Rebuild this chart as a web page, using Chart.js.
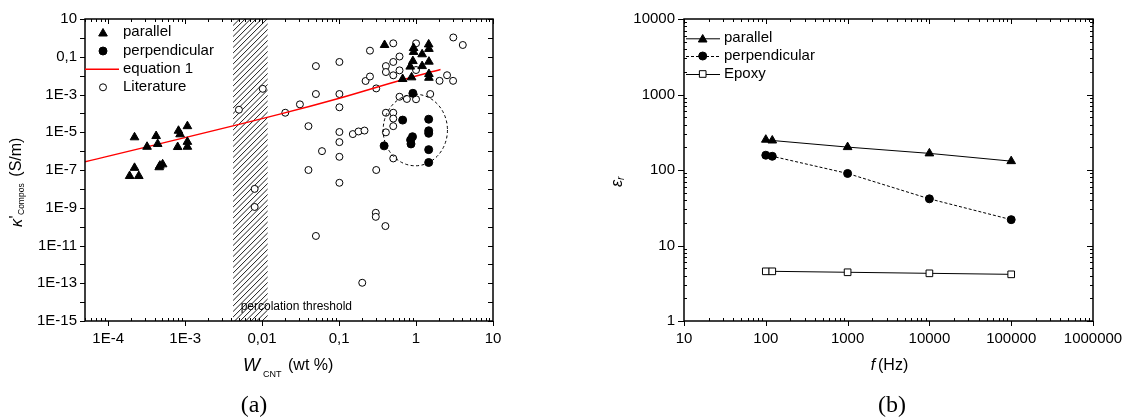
<!DOCTYPE html>
<html><head><meta charset="utf-8">
<script src="https://cdn.jsdelivr.net/npm/chart.js@4.4.1/dist/chart.umd.min.js"></script>
<style>
html,body{margin:0;padding:0;background:#fff;}
#wrap{position:relative;width:1124px;height:418px;overflow:hidden;background:#fff;}
canvas{position:absolute;top:0;}
#ca{left:0;} #cb{left:562px;}
</style></head><body>
<div id="wrap"><canvas id="ca" width="562" height="418"></canvas><canvas id="cb" width="562" height="418"></canvas></div>
<script>
// ---------------- Panel (a) data ----------------
const parallelW = [2.2e-4, 2.2e-4, 1.9e-4, 2.5e-4, 3.2e-4, 4.2e-4, 4.4e-4, 4.7e-4, 5.1e-4, 4.6e-4, 8.2e-4, 8.6e-4, 8.0e-4, 1.07e-3, 1.07e-3, 1.07e-3,
                   0.39, 0.93, 0.93, 1.46, 1.47, 1.2, 0.91, 0.84, 1.2, 1.47, 0.67, 0.875, 1.47, 1.47];
const parallelK = [5.4e-6, 1.3e-7, 4.8e-8, 4.8e-8, 1.7e-6, 6.3e-6, 2.4e-6, 1.7e-7, 2.0e-7, 1.4e-7, 1.2e-5, 7.8e-6, 1.65e-6, 2.1e-5, 3.1e-6, 1.7e-6,
                   0.42, 0.29, 0.18, 0.45, 0.26, 0.135, 0.059, 0.030, 0.032, 0.055, 6.6e-3, 8.1e-3, 0.0122, 7.7e-3];
const perpW = [0.91, 0.67, 1.46, 1.46, 1.46, 0.90, 0.85, 0.86, 0.385, 1.46, 1.46];
const perpK = [1.16e-3, 4.4e-5, 4.9e-5, 1.2e-5, 8.8e-6, 5.8e-6, 3.9e-6, 2.4e-6, 1.9e-6, 1.2e-6, 2.5e-7];
const litW = [5.0e-3, 0.0102, 8.0e-3, 8.0e-3, 0.020, 0.031, 0.040, 0.050, 0.050, 0.060, 0.040,
              0.101, 0.101, 0.101, 0.101, 0.101, 0.101, 0.101, 0.151, 0.179, 0.214,
              0.252, 0.221, 0.252, 0.304, 0.304, 0.406, 0.406, 0.506, 0.506, 0.506, 0.61, 0.61,
              0.406, 0.506, 0.506, 0.506, 0.406, 0.506, 0.61, 0.76, 1.0, 1.53, 1.0, 1.0,
              3.05, 4.05, 2.53, 2.02, 3.03, 0.050, 0.30, 0.30, 0.40, 0.20];
const litK = [1.56e-4, 2.0e-3, 1.0e-8, 1.1e-9, 1.08e-4, 3.0e-4, 2.1e-5, 0.032, 1.06e-3, 1.0e-6, 1.0e-7,
              0.053, 1.06e-3, 2.1e-4, 1.03e-5, 3.0e-6, 5.0e-7, 2.1e-8, 8.0e-6, 1.1e-5, 1.23e-5,
              0.21, 5.2e-3, 9.0e-3, 2.1e-3, 1.0e-7, 0.032, 0.0155, 0.515, 0.053, 0.0104, 0.103, 0.019,
              1.08e-4, 1.08e-4, 5.3e-5, 2.1e-5, 9.9e-6, 4.1e-7, 7.6e-4, 5.8e-4, 5.6e-4, 1.06e-3, 0.515, 0.0198,
              1.05, 0.42, 0.0105, 5.3e-3, 5.3e-3, 3.2e-11, 5.4e-10, 3.3e-10, 1.07e-10, 1.06e-13];
const eqW = [5e-5, 0.017, 0.093, 0.65, 2.08];
const eqK = [2.7e-7, 9.1e-5, 5.8e-4, 5.9e-3, 0.021];
const hatchW = [0.0042, 0.0118];            // percolation threshold band
const ellipseW = [0.374, 2.56];             // dashed ellipse extent (x)
const ellipseK = [1.67e-7, 1.03e-3];        // dashed ellipse extent (y)
const percLabelPos = [0.00526, 10 ** -14.19];
const xTickValsA = [1e-4, 1e-3, 1e-2, 1e-1, 1, 10];
const xTickLabsA = ['1E-4', '1E-3', '0,01', '0,1', '1', '10'];
const yTickValsA = [10, 0.1, 1e-3, 1e-5, 1e-7, 1e-9, 1e-11, 1e-13, 1e-15];
const yTickLabsA = ['10', '0,1', '1E-3', '1E-5', '1E-7', '1E-9', '1E-11', '1E-13', '1E-15'];

// ---------------- Panel (b) data ----------------
const freqB = [100, 120, 1000, 10000, 100000];
const parallelEps = [252, 246, 201, 166, 131];
const perpEps = [157, 152, 90, 41.5, 22];
const epoxyEps = [4.55, 4.55, 4.42, 4.28, 4.15];
const xTickValsB = [10, 100, 1000, 10000, 100000, 1000000];
const xTickLabsB = ['10', '100', '1000', '10000', '100000', '1000000'];
const yTickValsB = [1, 10, 100, 1000, 10000];
const yTickLabsB = ['1', '10', '100', '1000', '10000'];

// ---------------- helpers ----------------
const SANS = "'Liberation Sans', Arial, Helvetica, sans-serif";
const SERIF = "'Liberation Serif', 'Times New Roman', serif";
Chart.defaults.font.family = SANS;
Chart.defaults.font.size = 15;
Chart.defaults.color = '#000';
Chart.defaults.animation = false;

const zip = (xs, ys) => xs.map((x, i) => ({x: x, y: ys[i]}));
const setTicks = vals => scale => { scale.ticks = vals.map(v => ({value: v})); };
const labelFor = (vals, labs) => v => {
  const i = vals.findIndex(t => Math.abs(Math.log10(t) - Math.log10(v)) < 1e-6);
  return i >= 0 ? labs[i] : '';
};
const fixX = h => s => { s.height = h; s.paddingLeft = 0; s.paddingRight = 0; };
const fixY = w => s => { s.width = w; s.paddingTop = 0; s.paddingBottom = 0; };
function logMinor(min, max, withMinor) {
  const out = [];
  for (let e = Math.floor(Math.log10(min)) - 1; e <= Math.ceil(Math.log10(max)); e++) {
    for (let m = 1; m < 10; m++) {
      if (!withMinor && m > 1) continue;
      const v = m * Math.pow(10, e);
      if (v >= min * 0.9999 && v <= max * 1.0001) out.push({v: v, major: m === 1});
    }
  }
  return out;
}
function seg(ctx, x1, y1, x2, y2) { ctx.beginPath(); ctx.moveTo(x1, y1); ctx.lineTo(x2, y2); ctx.stroke(); }

function drawTicksAndBox(chart, spec) {
  const ctx = chart.ctx, a = chart.chartArea, xs = chart.scales.x, ys = chart.scales.y;
  ctx.save();
  ctx.strokeStyle = '#000';
  ctx.lineWidth = 1;
  spec.xt.forEach(t => {
    const p = Math.round(xs.getPixelForValue(t.v)) + 0.5;
    const b = t.major ? spec.bMaj : spec.bMin, tp = t.major ? spec.tMaj : spec.tMin;
    seg(ctx, p, a.bottom, p, a.bottom + b);
    seg(ctx, p, a.top, p, a.top - tp);
  });
  spec.yt.forEach(t => {
    const p = Math.round(ys.getPixelForValue(t.v)) + 0.5;
    const l = t.major ? spec.lMaj : spec.lMin, r = t.major ? spec.rMaj : spec.rMin;
    seg(ctx, a.left, p, a.left - l, p);
    seg(ctx, a.right, p, a.right + r, p);
  });
  ctx.lineWidth = 1.5;
  ctx.strokeRect(a.left, a.top, a.right - a.left, a.bottom - a.top);
  ctx.restore();
}
function marker(ctx, style, r, x, y, fill) {
  ctx.save();
  ctx.fillStyle = fill; ctx.strokeStyle = '#000'; ctx.lineWidth = 1;
  if (Chart.helpers && Chart.helpers.drawPoint) {
    Chart.helpers.drawPoint(ctx, {pointStyle: style, rotation: 0, radius: r, borderWidth: 1}, x, y);
  }
  ctx.restore();
}
function text(ctx, s, x, y, font, align, base) {
  ctx.font = font; ctx.textAlign = align || 'left'; ctx.textBaseline = base || 'alphabetic';
  ctx.fillStyle = '#000'; ctx.fillText(s, x, y);
}

// ---------------- Panel (a) ----------------
const decorA = {
  id: 'decorA',
  beforeDatasetsDraw(chart) {
    const ctx = chart.ctx, a = chart.chartArea, xs = chart.scales.x;
    const x1 = xs.getPixelForValue(hatchW[0]), x2 = xs.getPixelForValue(hatchW[1]);
    ctx.save();
    ctx.beginPath(); ctx.rect(x1, a.top, x2 - x1, a.bottom - a.top); ctx.clip();
    ctx.strokeStyle = '#000'; ctx.lineWidth = 0.9;
    const h = a.bottom - a.top;
    for (let s = x1 - h - 10; s < x2 + 10; s += 5.5) {
      seg(ctx, s, a.bottom, s + h, a.top);
    }
    ctx.restore();
  },
  afterDatasetsDraw(chart) {
    const ctx = chart.ctx, xs = chart.scales.x, ys = chart.scales.y;
    const l = xs.getPixelForValue(ellipseW[0]), r = xs.getPixelForValue(ellipseW[1]);
    const b = ys.getPixelForValue(ellipseK[0]), t = ys.getPixelForValue(ellipseK[1]);
    ctx.save();
    ctx.strokeStyle = '#000'; ctx.lineWidth = 1; ctx.setLineDash([3, 2.5]);
    ctx.beginPath(); ctx.ellipse((l + r) / 2, (t + b) / 2, (r - l) / 2, (b - t) / 2, 0, 0, Math.PI * 2); ctx.stroke();
    ctx.restore();
    ctx.save();
    text(ctx, 'percolation threshold', xs.getPixelForValue(percLabelPos[0]), ys.getPixelForValue(percLabelPos[1]) + 4, '12px ' + SANS);
    ctx.restore();
  },
  afterDraw(chart) {
    const ctx = chart.ctx;
    drawTicksAndBox(chart, {
      xt: logMinor(5e-5, 10, true), yt: logMinor(1e-15, 10, false),
      bMaj: 5, bMin: -3, tMaj: -5, tMin: -3, lMaj: 5, lMin: 5, rMaj: -5, rMin: -5
    });
    ctx.save();
    const ds = chart.data.datasets;
    marker(ctx, 'triangle', 5, 103, 33.5, '#000');
    text(ctx, ds[1].label, 123, 32.3, '15px ' + SANS, 'left', 'middle');
    marker(ctx, 'circle', 4, 103, 51, '#000');
    text(ctx, ds[0].label, 123, 51, '15px ' + SANS, 'left', 'middle');
    ctx.strokeStyle = '#ff0000'; ctx.lineWidth = 1.5;
    seg(ctx, 85, 69.3, 119, 69.3);
    text(ctx, ds[2].label, 123, 69.3, '15px ' + SANS, 'left', 'middle');
    marker(ctx, 'circle', 3.5, 103, 87.3, '#fff');
    text(ctx, ds[3].label, 123, 87.3, '15px ' + SANS, 'left', 'middle');
    text(ctx, 'W', 243, 370.5, 'italic 18px ' + SANS);
    text(ctx, 'CNT', 263, 376.5, '9px ' + SANS);
    text(ctx, '(wt %)', 288, 370, '16px ' + SANS);
    ctx.save();
    ctx.rotate(-Math.PI / 2);
    text(ctx, '\u03BA', -227, 22, 'italic 16px ' + SANS);
    text(ctx, "'", -218.5, 21, '16px ' + SANS);
    text(ctx, 'Compos', -215, 24, '8.5px ' + SANS);
    text(ctx, '(S/m)', -176.7, 20.5, '16px ' + SANS);
    ctx.restore();
    text(ctx, '(a)', 240.7, 412.4, '24px ' + SERIF);
    ctx.restore();
  }
};

new Chart(document.getElementById('ca'), {
  type: 'scatter',
  data: {
    datasets: [
      {label: 'perpendicular', data: zip(perpW, perpK), pointStyle: 'circle', pointRadius: 4,
       backgroundColor: '#000', borderColor: '#000', borderWidth: 1},
      {label: 'parallel', data: zip(parallelW, parallelK), pointStyle: 'triangle', pointRadius: 5,
       backgroundColor: '#000', borderColor: '#000', borderWidth: 1},
      {label: 'equation 1', data: zip(eqW, eqK), showLine: true, pointRadius: 0, borderColor: '#ff0000',
       borderWidth: 1.5, cubicInterpolationMode: 'monotone', fill: false},
      {label: 'Literature', data: zip(litW, litK), pointStyle: 'circle', pointRadius: 3.5,
       backgroundColor: '#fff', borderColor: '#000', borderWidth: 1}
    ]
  },
  options: {
    responsive: false, animation: false, events: [],
    layout: {padding: {left: 0, top: 19, right: 69, bottom: 0}},
    plugins: {legend: {display: false}, tooltip: {enabled: false}},
    scales: {
      x: {type: 'logarithmic', position: 'bottom', min: 5e-5, max: 10,
          afterBuildTicks: setTicks(xTickValsA), afterFit: fixX(97),
          grid: {display: false, drawTicks: false}, border: {display: false},
          ticks: {callback: labelFor(xTickValsA, xTickLabsA), autoSkip: false, maxRotation: 0, padding: 9,
                  font: {size: 15}}},
      y: {type: 'logarithmic', position: 'left', min: 1e-15, max: 10,
          afterBuildTicks: setTicks(yTickValsA), afterFit: fixY(85),
          grid: {display: false, drawTicks: false}, border: {display: false},
          ticks: {callback: labelFor(yTickValsA, yTickLabsA), autoSkip: false, padding: 8, font: {size: 15}}}
    }
  },
  plugins: [decorA]
});

// ---------------- Panel (b) ----------------
const decorB = {
  id: 'decorB',
  afterDraw(chart) {
    const ctx = chart.ctx;
    drawTicksAndBox(chart, {
      xt: logMinor(10, 1e6, true), yt: logMinor(1, 1e4, true),
      bMaj: 5, bMin: -3, tMaj: -5, tMin: -3, lMaj: 6, lMin: -3, rMaj: -6, rMin: -3
    });
    ctx.save();
    const ds = chart.data.datasets;
    const rows = [38.3, 56, 74];
    const styles = [['triangle', 5, '#000', []], ['circle', 4, '#000', [3, 2]], ['rect', 4.7, '#fff', []]];
    rows.forEach((y, i) => {
      ctx.save();
      ctx.strokeStyle = '#000'; ctx.lineWidth = 1; ctx.setLineDash(styles[i][3]);
      seg(ctx, 124, y + 0.5, 158, y + 0.5);
      ctx.restore();
      marker(ctx, styles[i][0], styles[i][1], 140.7, y + (i === 0 ? 1.2 : 0), styles[i][2]);
      text(ctx, ds[i].label, 162, y, '15px ' + SANS, 'left', 'middle');
    });
    text(ctx, 'f', 308.7, 370, 'italic 16px ' + SANS);
    text(ctx, '(Hz)', 316, 370, '16px ' + SANS);
    ctx.save();
    ctx.rotate(-Math.PI / 2);
    text(ctx, '\u03B5', -187, 59.5, 'italic 16px ' + SANS);
    text(ctx, 'r', -180, 62, 'italic 10px ' + SANS);
    ctx.restore();
    text(ctx, '(b)', 316, 412.4, '24px ' + SERIF);
    ctx.restore();
  }
};

new Chart(document.getElementById('cb'), {
  type: 'scatter',
  data: {
    datasets: [
      {label: 'parallel', data: zip(freqB, parallelEps), showLine: true, borderColor: '#000', borderWidth: 1,
       pointStyle: 'triangle', pointRadius: 5, pointBackgroundColor: '#000', pointBorderColor: '#000'},
      {label: 'perpendicular', data: zip(freqB, perpEps), showLine: true, borderColor: '#000', borderWidth: 1,
       borderDash: [3, 2], pointStyle: 'circle', pointRadius: 4, pointBackgroundColor: '#000', pointBorderColor: '#000'},
      {label: 'Epoxy', data: zip(freqB, epoxyEps), showLine: true, borderColor: '#000', borderWidth: 1,
       pointStyle: 'rect', pointRadius: 4.7, pointBackgroundColor: '#fff', pointBorderColor: '#000'}
    ]
  },
  options: {
    responsive: false, animation: false, events: [],
    layout: {padding: {left: 0, top: 19, right: 31, bottom: 0}},
    plugins: {legend: {display: false}, tooltip: {enabled: false}},
    scales: {
      x: {type: 'logarithmic', position: 'bottom', min: 10, max: 1e6,
          afterBuildTicks: setTicks(xTickValsB), afterFit: fixX(97),
          grid: {display: false, drawTicks: false}, border: {display: false},
          ticks: {callback: labelFor(xTickValsB, xTickLabsB), autoSkip: false, maxRotation: 0, padding: 9,
                  font: {size: 15}}},
      y: {type: 'logarithmic', position: 'left', min: 1, max: 1e4,
          afterBuildTicks: setTicks(yTickValsB), afterFit: fixY(122),
          grid: {display: false, drawTicks: false}, border: {display: false},
          ticks: {callback: labelFor(yTickValsB, yTickLabsB), autoSkip: false, padding: 9, font: {size: 15}}}
    }
  },
  plugins: [decorB]
});
</script>
</body></html>
